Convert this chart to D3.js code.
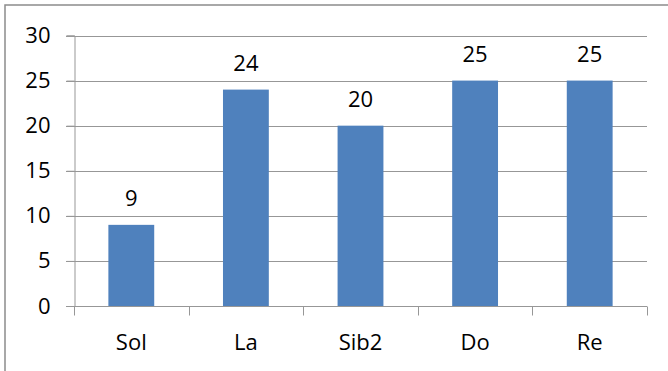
<!DOCTYPE html>
<html>
<head>
<meta charset="utf-8">
<script src="https://cdn.jsdelivr.net/npm/d3@7"></script>
<style>
  html, body { margin: 0; padding: 0; background: #fff; }
  svg { display: block; }
  text { font-family: "Open Sans", "Liberation Sans", sans-serif; fill: #000; }
</style>
</head>
<body>
<svg id="chart" width="668" height="371"></svg>
<script>
// Notes and their counts
const categories = ["Sol", "La", "Sib2", "Do", "Re"];
const values = [9, 24, 20, 25, 25];
const yTicks = [0, 5, 10, 15, 20, 25, 30];

const W = 668, H = 371;
const margin = { left: 74, right: 21, top: 35.5, bottom: 65 };

const svg = d3.select("#chart");

// Outer chart frame
svg.append("rect")
  .attr("x", 5).attr("y", 5)
  .attr("width", W).attr("height", H)
  .attr("fill", "none")
  .attr("stroke", "#8c8c8c")
  .attr("stroke-width", 1.5);

const x = d3.scaleBand()
  .domain(categories)
  .range([margin.left, W - margin.right])
  .paddingInner(0.6)
  .paddingOuter(0.3);

const xEdges = d3.scaleBand()
  .domain(categories)
  .range([margin.left, W - margin.right]);

const y = d3.scaleLinear()
  .domain([0, 30])
  .range([H - margin.bottom, margin.top]);

// Horizontal gridlines
svg.append("g")
  .selectAll("line")
  .data(yTicks)
  .join("line")
  .attr("x1", margin.left - 8)
  .attr("x2", W - margin.right)
  .attr("y1", d => Math.round(y(d)) + 0.5)
  .attr("y2", d => Math.round(y(d)) + 0.5)
  .attr("stroke", "#979797")
  .attr("stroke-width", 1);

// Y axis
const yAxis = d3.axisLeft(y).tickValues(yTicks).tickSize(8).tickPadding(16);
const gy = svg.append("g")
  .attr("transform", `translate(${margin.left + 0.5},0)`)
  .call(yAxis);
gy.select(".domain").attr("stroke", "#979797");
gy.selectAll(".tick line").attr("stroke", "#979797");
gy.selectAll(".tick text")
  .style("font-size", "22px")
  .attr("fill", "#000");

// Bars
svg.append("g")
  .selectAll("rect")
  .data(values)
  .join("rect")
  .attr("x", (d, i) => x(categories[i]))
  .attr("width", x.bandwidth())
  .attr("y", d => y(d))
  .attr("height", d => y(0) - y(d))
  .attr("fill", "#4f81bd");

// X axis baseline and category ticks
const baseY = Math.round(y(0)) + 0.5;
svg.append("line")
  .attr("x1", margin.left).attr("x2", W - margin.right)
  .attr("y1", baseY).attr("y2", baseY)
  .attr("stroke", "#979797");

const edges = categories.map(c => xEdges(c)).concat([W - margin.right]);
svg.append("g")
  .selectAll("line")
  .data(edges)
  .join("line")
  .attr("x1", d => Math.round(d) + 0.5)
  .attr("x2", d => Math.round(d) + 0.5)
  .attr("y1", baseY)
  .attr("y2", baseY + 9)
  .attr("stroke", "#979797");

// Category labels
svg.append("g")
  .selectAll("text")
  .data(categories)
  .join("text")
  .attr("x", d => xEdges(d) + xEdges.bandwidth() / 2)
  .attr("y", 350)
  .attr("text-anchor", "middle")
  .style("font-size", "22px")
  .text(d => d);

// Value labels
svg.append("g")
  .selectAll("text")
  .data(values)
  .join("text")
  .attr("x", (d, i) => x(categories[i]) + x.bandwidth() / 2)
  .attr("y", d => y(d) - 19)
  .attr("text-anchor", "middle")
  .style("font-size", "22px")
  .text(d => d);
</script>
</body>
</html>
